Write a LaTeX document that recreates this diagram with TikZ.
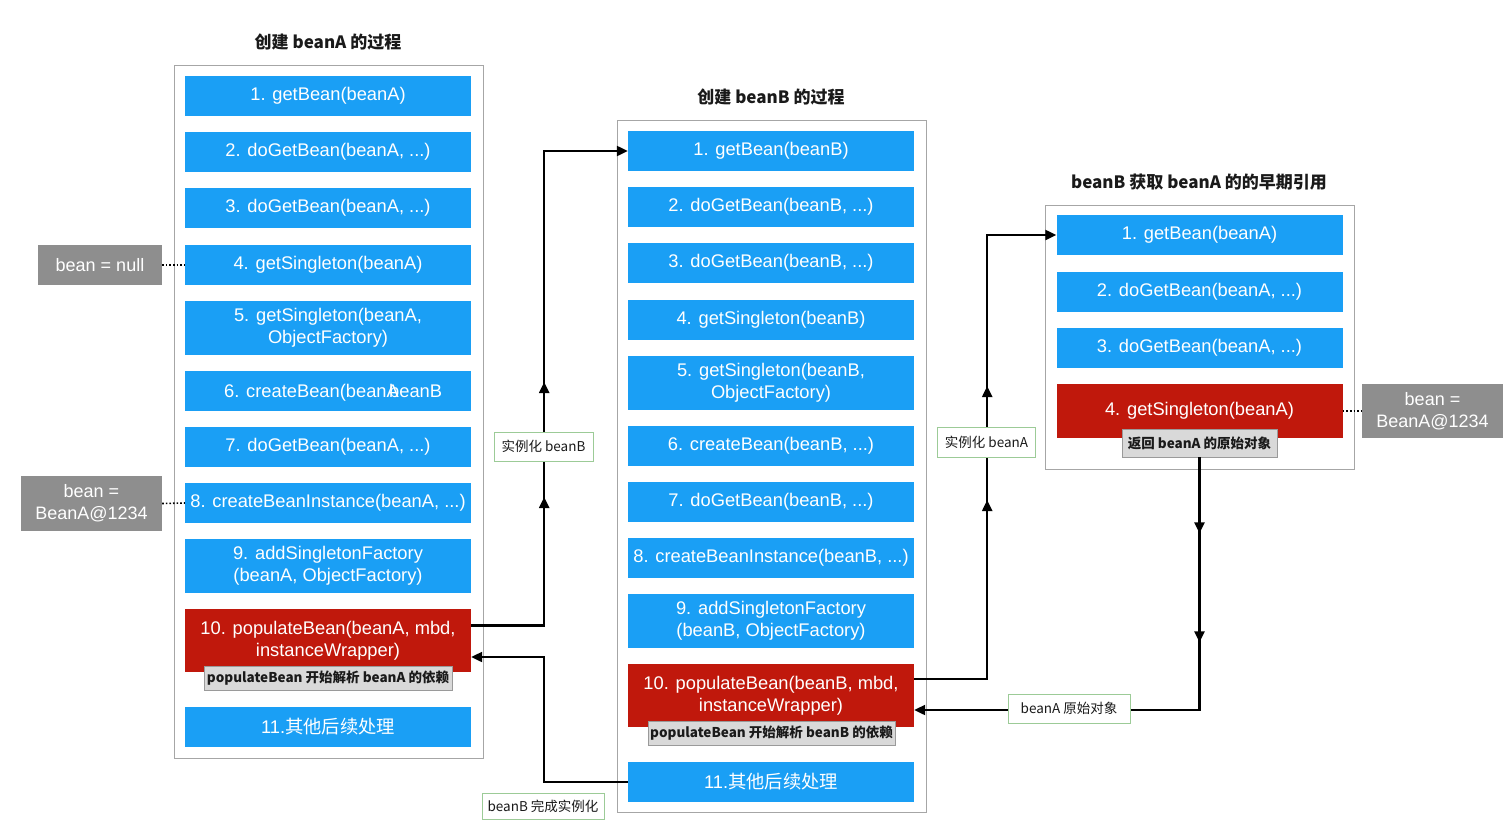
\documentclass[tikz,border=0pt]{standalone}
\usepackage{fontspec}
\setmainfont{Liberation Sans}
\newfontfamily\cjk{Noto Sans CJK SC}
\usetikzlibrary{arrows.meta,decorations.markings}
\definecolor{bblue}{HTML}{1A9FF5}
\definecolor{rred}{HTML}{C0180C}
\definecolor{framec}{HTML}{A6A6A6}
\definecolor{lgray}{HTML}{D9D9D9}
\definecolor{lgrayb}{HTML}{9A9A9A}
\definecolor{sgray}{HTML}{8E8E8E}
\definecolor{gborder}{HTML}{9CCB97}
\definecolor{darktext}{HTML}{1A1A1A}
\begin{document}
\begin{tikzpicture}[x=1pt,y=-1pt,
  >={Triangle[length=11pt,width=10pt]},
  stepbox/.style={fill=bblue, text=white, minimum width=286pt, minimum height=40pt, inner sep=0pt, align=center, font=\fontsize{18.3}{22}\selectfont},
  tall/.style={minimum height=54pt},
  redbox/.style={stepbox, fill=rred, minimum height=63pt},
  frame/.style={draw=framec, line width=1pt},
  note/.style={fill=lgray, draw=lgrayb, line width=0.8pt, inner sep=0pt, font=\cjk\bfseries\fontsize{13.5}{16}\selectfont, text=darktext},
  tag/.style={fill=white, draw=gborder, line width=1pt, inner sep=0pt, font=\cjk\fontsize{13.5}{16}\selectfont, text=darktext},
  side/.style={fill=sgray, text=white, inner sep=0pt, align=center, font=\fontsize{18}{22}\selectfont},
  title/.style={font=\cjk\bfseries\fontsize{17}{20}\selectfont, text=darktext},
  conn/.style={line width=2.2pt, ->},
  midarrows/.style n args={2}{decoration={markings, mark=at position #1 with {\arrow{>}}, mark=at position #2 with {\arrow{>}}}, postaction={decorate}},
  dots/.style={line width=1.6pt, dotted},
  plaintext/.style={inner sep=0pt, text=white, font=\fontsize{18.3}{22}\selectfont}
]
\clip (0,0) rectangle (1512,819);
\fill[white] (0,0) rectangle (1512,819);

% titles
\node[title] (tA) at (328,42) {创建 beanA 的过程};
\node[title] (tB) at (771,97) {创建 beanB 的过程};
\node[title] (tC) at (1199,182) {beanB 获取 beanA 的的早期引用};

% frames
\draw[frame] (174,65) rectangle (483,758);
\draw[frame] (617,120) rectangle (926,812);
\draw[frame] (1045,205) rectangle (1354,469);

% column A
\node[stepbox] (a1) at (328,96) {1. getBean(beanA)};
\node[stepbox] (a2) at (328,152) {2. doGetBean(beanA, ...)};
\node[stepbox] (a3) at (328,208) {3. doGetBean(beanA, ...)};
\node[stepbox] (a4) at (328,265) {4. getSingleton(beanA)};
\node[stepbox,tall] (a5) at (328,328) {5. getSingleton(beanA,\\ObjectFactory)};
\node[stepbox] (a6) at (328,391) {};
\node[plaintext, anchor=base west] (a6t1) at (224,397.5) {6. createBean(beanA};
\node[plaintext, anchor=base west] (a6t2) at (389,397.5) {beanB};
\node[stepbox] (a7) at (328,447) {7. doGetBean(beanA, ...)};
\node[stepbox] (a8) at (328,503) {8. createBeanInstance(beanA, ...)};
\node[stepbox,tall] (a9) at (328,566) {9. addSingletonFactory\\(beanA, ObjectFactory)};
\node[redbox] (a10) at (328,640.5) {10. populateBean(beanA, mbd,\\instanceWrapper)};
\node[stepbox] (a11) at (328,727) {11.{\cjk 其他后续处理}};

% column B
\node[stepbox] (b1) at (771,151) {1. getBean(beanB)};
\node[stepbox] (b2) at (771,207) {2. doGetBean(beanB, ...)};
\node[stepbox] (b3) at (771,263) {3. doGetBean(beanB, ...)};
\node[stepbox] (b4) at (771,320) {4. getSingleton(beanB)};
\node[stepbox,tall] (b5) at (771,383) {5. getSingleton(beanB,\\ObjectFactory)};
\node[stepbox] (b6) at (771,446) {6. createBean(beanB, ...)};
\node[stepbox] (b7) at (771,502) {7. doGetBean(beanB, ...)};
\node[stepbox] (b8) at (771,558) {8. createBeanInstance(beanB, ...)};
\node[stepbox,tall] (b9) at (771,621) {9. addSingletonFactory\\(beanB, ObjectFactory)};
\node[redbox] (b10) at (771,695.5) {10. populateBean(beanB, mbd,\\instanceWrapper)};
\node[stepbox] (b11) at (771,782) {11.{\cjk 其他后续处理}};

% column C
\node[stepbox] (c1) at (1199.5,235) {1. getBean(beanA)};
\node[stepbox] (c2) at (1199.5,292) {2. doGetBean(beanA, ...)};
\node[stepbox] (c3) at (1199.5,348) {3. doGetBean(beanA, ...)};
\node[redbox, minimum height=54pt] (c4) at (1199.5,411) {4. getSingleton(beanA)};

% side boxes
\node[side, minimum width=124pt, minimum height=40pt] (snull) at (100,265) {bean = null};
\node[side, minimum width=141pt, minimum height=55pt] (sA) at (91.5,503.5) {bean =\\BeanA@1234};
\node[side, minimum width=141pt, minimum height=54pt] (sC) at (1432.5,411) {bean =\\BeanA@1234};
\draw[dots] (snull.east) -- (a4.west);
\draw[dots] (sA.east) -- (a8.west);
\draw[dots] (c4.east) -- (sC.west);

% notes on red boxes
\node[note, minimum width=248pt, minimum height=24pt] (na) at (328,678) {populateBean 开始解析 beanA 的依赖};
\node[note, minimum width=247pt, minimum height=24pt] (nb) at (771.5,733) {populateBean 开始解析 beanB 的依赖};
\node[note, minimum width=155pt, minimum height=28pt] (nc) at (1199.5,443) {返回 beanA 的原始对象};

% connectors
\draw[conn, midarrows={201.5pt}{316.5pt}] ([yshift=15pt]a10.east) -- ++(73,0) |- (b1.west);
\draw[conn] (b11.west) -- ++(-84,0) |- ([yshift=-16.5pt]a10.east);
\draw[conn, midarrows={252pt}{366pt}] ([yshift=16.5pt]b10.east) -- ++(73,0) |- (c1.west);
\draw[conn, midarrows={76pt}{185pt}] (nc.south) |- ([yshift=-14.5pt]b10.east);

% tags
\node[tag, minimum width=99pt, minimum height=29pt] (tagB) at (543.5,446.5) {实例化 beanB};
\node[tag, minimum width=122pt, minimum height=26pt] (tagBd) at (543,806) {beanB 完成实例化};
\node[tag, minimum width=98pt, minimum height=30pt] (tagA) at (986.5,442.5) {实例化 beanA};
\node[tag, minimum width=122pt, minimum height=29pt] (tagR) at (1069,708.5) {beanA 原始对象};
\end{tikzpicture}
\end{document}
